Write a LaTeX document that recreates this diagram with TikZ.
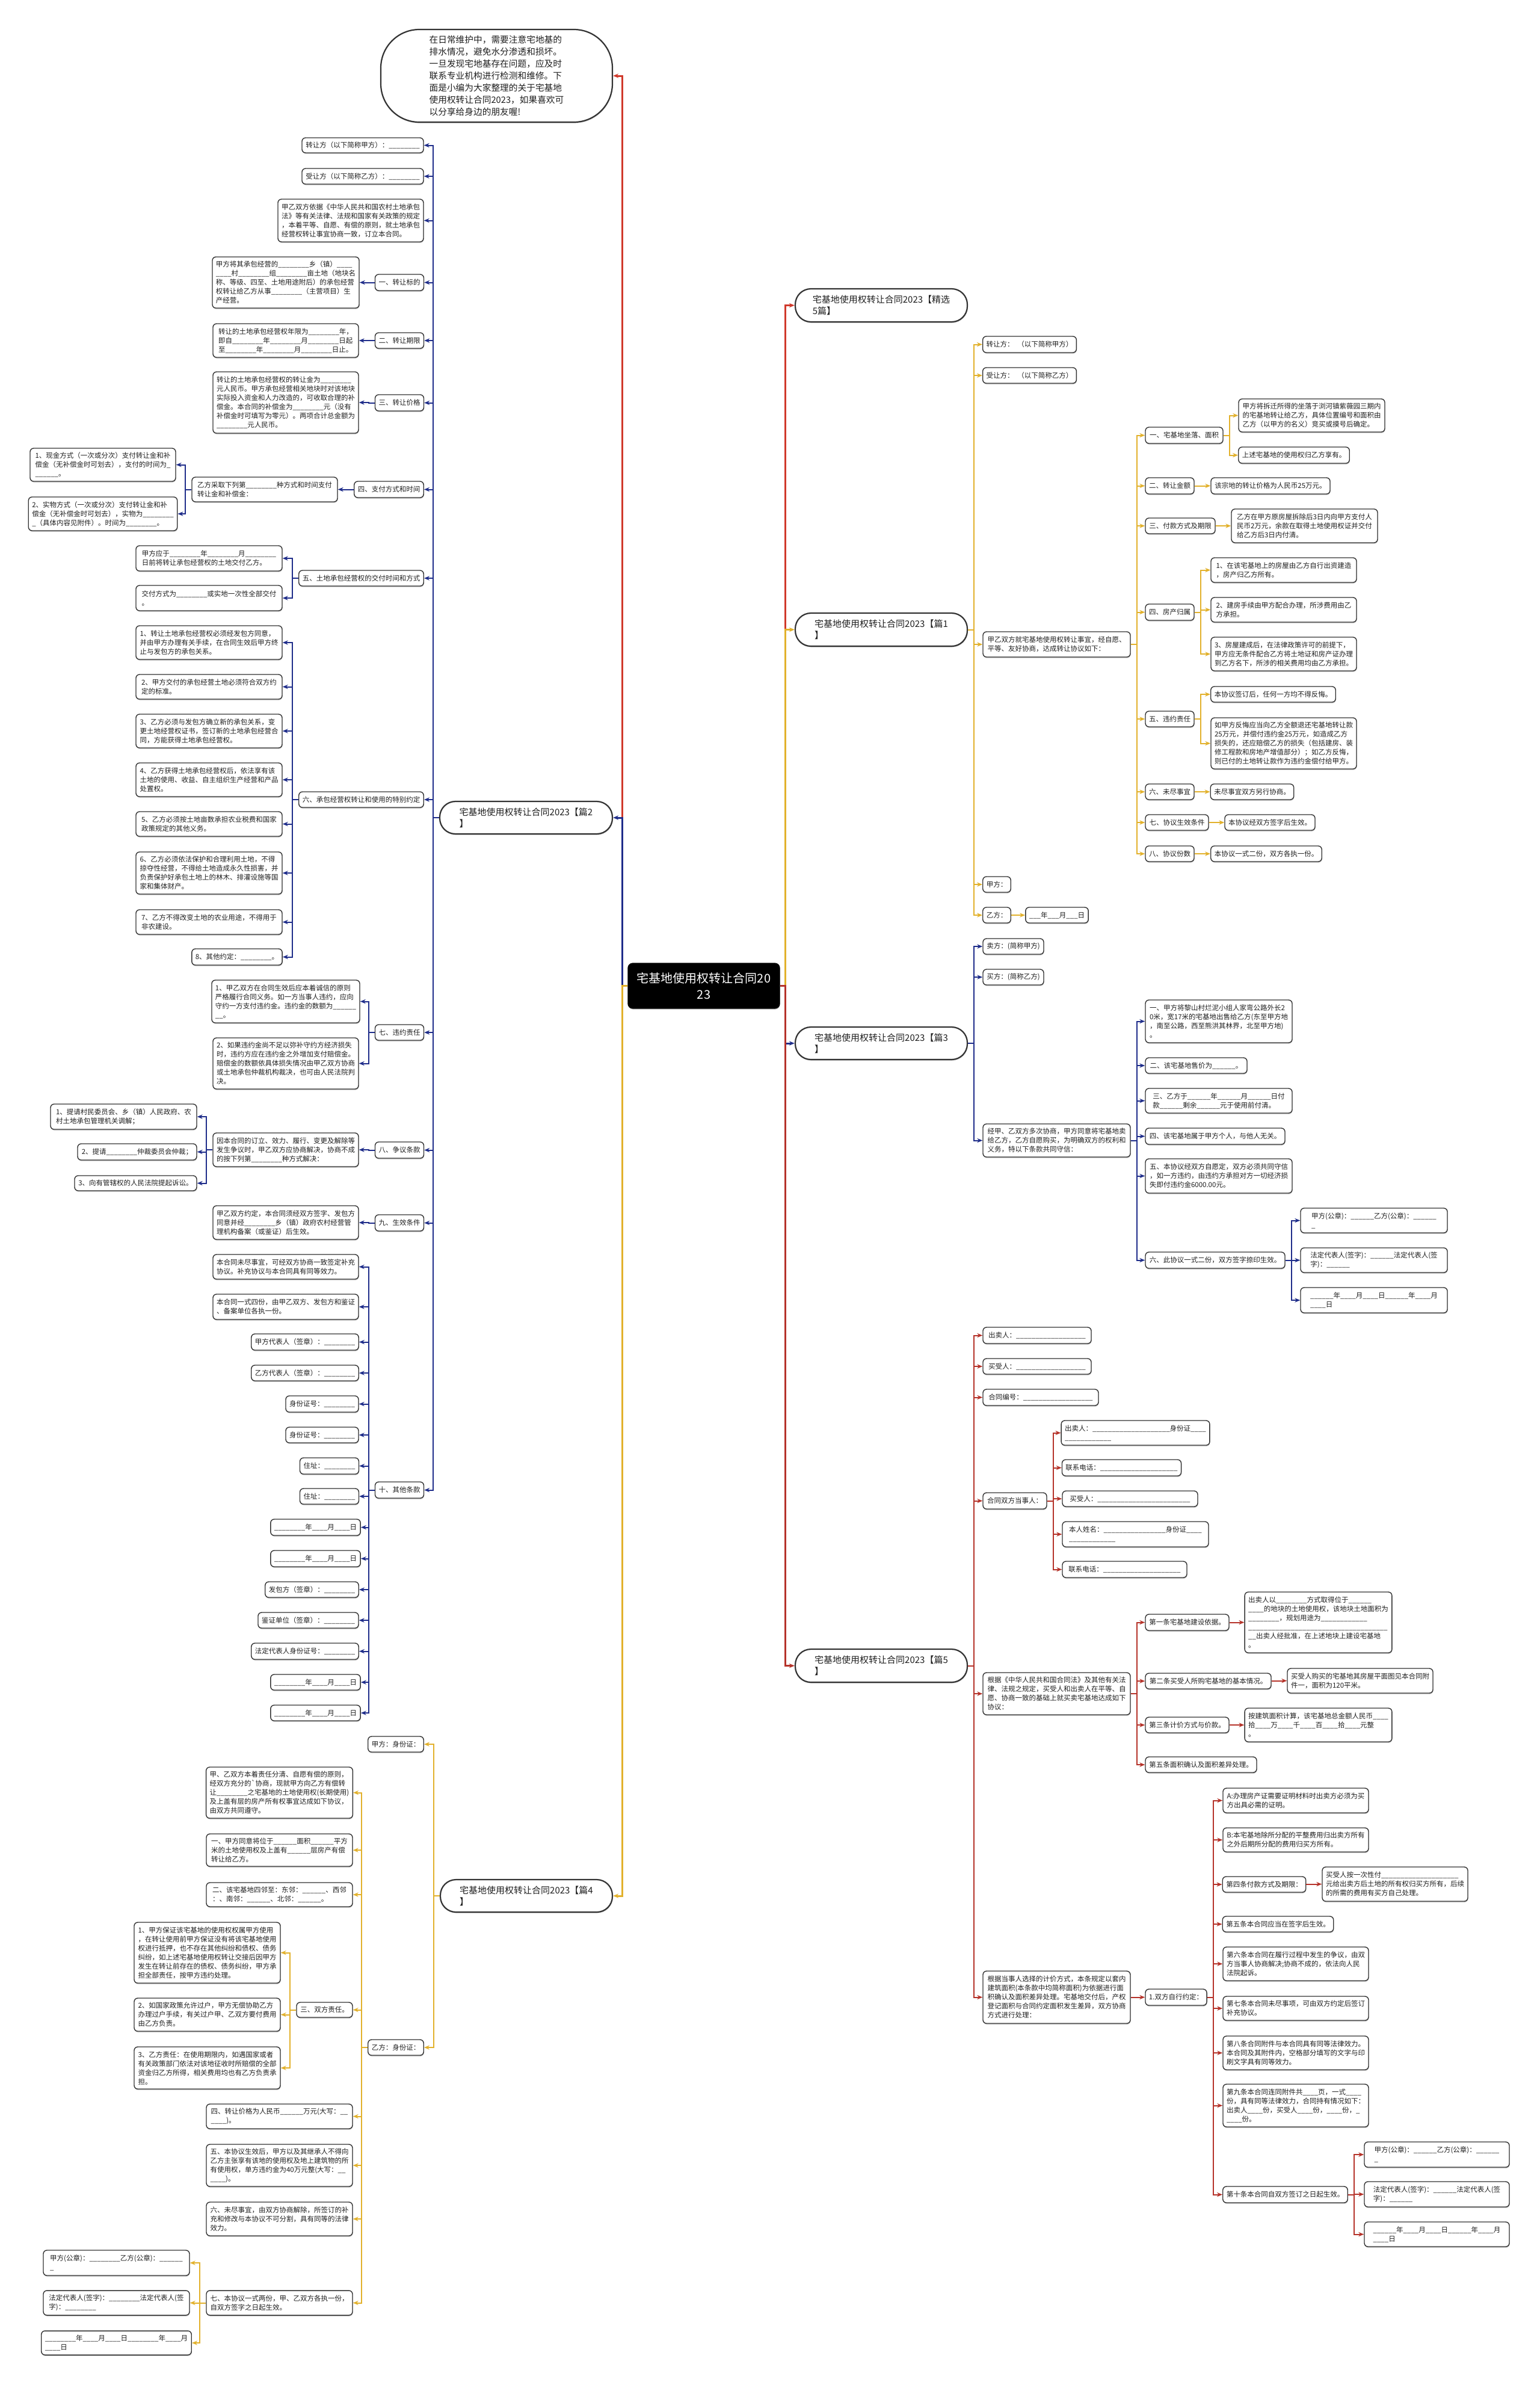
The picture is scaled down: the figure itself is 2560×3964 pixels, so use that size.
\documentclass[tikz,border=0pt]{standalone}
\usepackage{fontspec}
\setmainfont{Noto Sans CJK SC}
\usetikzlibrary{arrows.meta,shadows}
\definecolor{cblue}{HTML}{1F2D8A}
\definecolor{cgold}{HTML}{E2B12C}
\definecolor{cred}{HTML}{D0392B}
\definecolor{cdred}{HTML}{B5332A}
\colorlet{brc}{black}
\newcommand\blL{\_\_\_\_\_\_\_\_}
\newcommand\blM{\_\_\_\_\_\_}
\newcommand\blS{\_\_\_\_}
\newcommand\sfnt{\fontsize{5.75pt}{7.5pt}\selectfont}
\newcommand\lfnt{\fontsize{7.5pt}{9.5pt}\selectfont}
\newcommand\ifnt{\fontsize{7.35pt}{10pt}\selectfont}
\newcommand\rfnt{\fontsize{10pt}{13.5pt}\selectfont}
\newcommand\mybx[7][box]{%
 \pgfmathsetmacro\myx{(#3+#5)/2}\pgfmathsetmacro\myy{(#4+#6)/2}%
 \pgfmathsetmacro\myw{(#5-#3)*0.5}\pgfmathsetmacro\myh{(#6-#4)*0.5}%
 \node[#1,minimum width=\myw pt,minimum height=\myh pt] (#2) at (\myx,\myy) {#7};}
\newcommand\myER[2]{\foreach \cc in {#2}{\draw[conn] (#1.east) -- ++(10,0) |- (\cc.west);}}
\newcommand\myEL[2]{\foreach \cc in {#2}{\draw[conn] (#1.west) -- ++(-10,0) |- (\cc.east);}}
\begin{document}
\begin{tikzpicture}[x=0.5pt,y=-0.5pt,
 box/.style={draw=black!80,line width=0.7pt,rounded corners=3pt,fill=white,inner xsep=3pt,inner ysep=0pt,align=left,font=\sfnt,text=black!88,drop shadow={shadow xshift=0.3pt,shadow yshift=-0.9pt,fill=black!40}},
 lvl/.style={box,line width=1.1pt,rounded corners=13pt,font=\lfnt},
 intro/.style={box,line width=1.1pt,rounded corners=32pt,font=\ifnt},
 rootbox/.style={box,draw=black,fill=black,text=white,font=\rfnt,align=center,rounded corners=4pt},
 conn/.style={draw=brc,line width=1pt,-{Stealth[length=4.5pt,width=3.6pt]}}]
\fill[white] (0,0) rectangle (2560,3964);
\useasboundingbox (0,0) rectangle (2560,3964);

% root and level 1
\mybx[rootbox]{root}{1044}{1601}{1296}{1676}{宅基地使用权转让合同20\\23}
\mybx[intro]{nI}{633}{49}{1018}{203}{在日常维护中，需要注意宅地基的\\排水情况，避免水分渗透和损坏。\\一旦发现宅地基存在问题，应及时\\联系专业机构进行检测和维修。下\\面是小编为大家整理的关于宅基地\\使用权转让合同2023，如果喜欢可\\以分享给身边的朋友喔!}
\mybx[lvl]{n2}{731}{1332}{1018}{1386}{宅基地使用权转让合同2023【篇2\\】}
\mybx[lvl]{n4}{732}{3124}{1018}{3178}{宅基地使用权转让合同2023【篇4\\】}
\mybx[lvl]{n0}{1322}{480}{1608}{535}{宅基地使用权转让合同2023【精选\\5篇】}
\mybx[lvl]{n1}{1322}{1019}{1608}{1074}{宅基地使用权转让合同2023【篇1\\】}
\mybx[lvl]{n3}{1322}{1707}{1608}{1761}{宅基地使用权转让合同2023【篇3\\】}
\mybx[lvl]{n5}{1322}{2741}{1608}{2796}{宅基地使用权转让合同2023【篇5\\】}

% ---------- 篇2 ----------
\mybx{n2a}{502}{229}{704}{254}{转让方（以下简称甲方）：\blL}
\mybx{n2b}{502}{280}{704}{306}{受让方（以下简称乙方）：\blL}
\mybx{n2c}{462}{331}{704}{402}{甲乙双方依据《中华人民共和国农村土地承包\\法》等有关法律、法规和国家有关政策的规定\\，本着平等、自愿、有偿的原则，就土地承包\\经营权转让事宜协商一致，订立本合同。}
\mybx{n2d}{624}{456}{704}{483}{一、转让标的}
\mybx{n2d1}{354}{427}{596}{512}{甲方将其承包经营的\blL 乡（镇）\blS\\\blS 村\blL 组\blL 亩土地（地块名\\称、等级、四至、土地用途附后）的承包经营\\权转让给乙方从事\blL （主营项目）生\\产经营。}
\mybx{n2e}{624}{553}{704}{579}{二、转让期限}
\mybx{n2e1}{354}{538}{596}{594}{转让的土地承包经营权年限为\blL 年，\\即自\blL 年\blL 月\blL 日起\\至\blL 年\blL 月\blL 日止。}
\mybx{n2f}{624}{656}{704}{683}{三、转让价格}
\mybx{n2f1}{354}{618}{596}{720}{转让的土地承包经营权的转让金为\blL\\元人民币。甲方承包经营相关地块时对该地块\\实际投入资金和人力改造的，可收取合理的补\\偿金。本合同的补偿金为\blL 元（没有\\补偿金时可填写为零元）。两项合计总金额为\\\blL 元人民币。}
\mybx{n2g}{589}{800}{704}{827}{四、支付方式和时间}
\mybx{n2g1}{319}{793}{561}{834}{乙方采取下列第\blL 种方式和时间支付\\转让金和补偿金：}
\mybx{n2g1a}{50}{745}{292}{800}{1、现金方式（一次或分次）支付转让金和补\\偿金（无补偿金时可划去），支付的时间为\_\\\blM 。}
\mybx{n2g1b}{50}{826}{292}{882}{2、实物方式（一次或分次）支付转让金和补\\偿金（无补偿金时可划去），实物为\blL\\\_（具体内容见附件）。时间为\blL 。}
\mybx{n2h}{497}{948}{704}{974}{五、土地承包经营权的交付时间和方式}
\mybx{n2h1}{226}{907}{469}{949}{甲方应于\blL 年\blL 月\blL\\日前将转让承包经营权的土地交付乙方。}
\mybx{n2h2}{226}{973}{469}{1015}{交付方式为\blL 或实地一次性全部交付\\。}
\mybx{n2i}{497}{1316}{704}{1342}{六、承包经营权转让和使用的特别约定}
\mybx{n2i1}{226}{1040}{469}{1096}{1、转让土地承包经营权必须经发包方同意，\\并由甲方办理有关手续，在合同生效后甲方终\\止与发包方的承包关系。}
\mybx{n2i2}{226}{1121}{469}{1162}{2、甲方交付的承包经营土地必须符合双方约\\定的标准。}
\mybx{n2i3}{226}{1187}{469}{1243}{3、乙方必须与发包方确立新的承包关系，变\\更土地经营权证书，签订新的土地承包经营合\\同，方能获得土地承包经营权。}
\mybx{n2i4}{226}{1268}{469}{1324}{4、乙方获得土地承包经营权后，依法享有该\\土地的使用、收益、自主组织生产经营和产品\\处置权。}
\mybx{n2i5}{226}{1349}{469}{1390}{5、乙方必须按土地亩数承担农业税费和国家\\政策规定的其他义务。}
\mybx{n2i6}{226}{1416}{469}{1486}{6、乙方必须依法保护和合理利用土地，不得\\掠夺性经营，不得给土地造成永久性损害，并\\负责保护好承包土地上的林木、排灌设施等国\\家和集体财产。}
\mybx{n2i7}{226}{1512}{469}{1553}{7、乙方不得改变土地的农业用途，不得用于\\非农建设。}
\mybx{n2i8}{319}{1577}{469}{1604}{8、其他约定：\blL 。}
\mybx{n2j}{624}{1703}{704}{1729}{七、违约责任}
\mybx{n2j1}{354}{1629}{596}{1700}{1、甲乙双方在合同生效后应本着诚信的原则\\严格履行合同义务。如一方当事人违约，应向\\守约一方支付违约金。违约金的数额为\blM\\\_\_。}
\mybx{n2j2}{354}{1725}{596}{1810}{2、如果违约金尚不足以弥补守约方经济损失\\时，违约方应在违约金之外增加支付赔偿金。\\赔偿金的数额依具体损失情况由甲乙双方协商\\或土地承包仲裁机构裁决，也可由人民法院判\\决。}
\mybx{n2k}{624}{1898}{704}{1925}{八、争议条款}
\mybx{n2k1}{354}{1883}{596}{1939}{因本合同的订立、效力、履行、变更及解除等\\发生争议时，甲乙双方应协商解决，协商不成\\的按下列第\blL 种方式解决：}
\mybx{n2k1a}{84}{1835}{327}{1877}{1、提请村民委员会、乡（镇）人民政府、农\\村土地承包管理机关调解；}
\mybx{n2k1b}{129}{1901}{327}{1928}{2、提请\blL 仲裁委员会仲裁；}
\mybx{n2k1c}{124}{1954}{327}{1979}{3、向有管辖权的人民法院提起诉讼。}
\mybx{n2l}{624}{2019}{704}{2046}{九、生效条件}
\mybx{n2l1}{354}{2004}{596}{2060}{甲乙双方约定，本合同须经双方签字、发包方\\同意并经\blL 乡（镇）政府农村经营管\\理机构备案（或鉴证）后生效。}
\mybx{n2m}{624}{2463}{704}{2490}{十、其他条款}
\mybx{m1}{354}{2085}{596}{2126}{本合同未尽事宜，可经双方协商一致签定补充\\协议。补充协议与本合同具有同等效力。}
\mybx{m2}{354}{2151}{596}{2193}{本合同一式四份，由甲乙双方、发包方和鉴证\\、备案单位各执一份。}
\mybx{m3}{418}{2217}{596}{2244}{甲方代表人（签章）：\blL}
\mybx{m4}{418}{2269}{596}{2295}{乙方代表人（签章）：\blL}
\mybx{m5}{475}{2320}{596}{2347}{身份证号：\blL}
\mybx{m6}{475}{2372}{596}{2398}{身份证号：\blL}
\mybx{m7}{499}{2423}{596}{2450}{住址：\blL}
\mybx{m8}{499}{2474}{596}{2500}{住址：\blL}
\mybx{m9}{453}{2525}{596}{2552}{\blL 年\blS 月\blS 日}
\mybx{m10}{453}{2577}{596}{2604}{\blL 年\blS 月\blS 日}
\mybx{m11}{441}{2629}{596}{2655}{发包方（签章）：\blL}
\mybx{m12}{429}{2680}{596}{2706}{鉴证单位（签章）：\blL}
\mybx{m13}{418}{2731}{596}{2758}{法定代表人身份证号：\blL}
\mybx{m14}{453}{2783}{596}{2809}{\blL 年\blS 月\blS 日}
\mybx{m15}{453}{2834}{596}{2860}{\blL 年\blS 月\blS 日}

% ---------- 篇4 ----------
\mybx{n4a}{612}{2886}{704}{2912}{甲方：身份证：}
\mybx{n4b}{612}{3390}{704}{3416}{乙方：身份证：}
\mybx{b1}{343}{2937}{586}{3022}{甲、乙双方本着责任分清、自愿有偿的原则，\\经双方充分的\textasciigrave 协商，现就甲方向乙方有偿转\\让\blL 之宅基地的土地使用权(长期使用)\\及上盖有层的房产所有权事宜达成如下协议，\\由双方共同遵守。}
\mybx{b2}{343}{3048}{586}{3102}{一、甲方同意将位于\blM 面积\blM 平方\\米的土地使用权及上盖有\blM 层房产有偿\\转让给乙方。}
\mybx{b3}{343}{3129}{586}{3169}{二、该宅基地四邻至：东邻：\blM 、西邻\\：、南邻：\blM 、北邻：\blM 。}
\mybx{b4}{493}{3328}{586}{3353}{三、双方责任。}
\mybx{b4a}{223}{3195}{466}{3296}{1、甲方保证该宅基地的使用权权属甲方使用\\，在转让使用前甲方保证没有将该宅基地使用\\权进行抵押，也不存在其他纠纷和债权、债务\\纠纷，如上述宅基地使用权转让交接后因甲方\\发生在转让前存在的债权、债务纠纷，甲方承\\担全部责任，按甲方违约处理。}
\mybx{b4b}{223}{3321}{466}{3376}{2、如国家政策允许过户，甲方无偿协助乙方\\办理过户手续，有关过户甲、乙双方要付费用\\由乙方负责。}
\mybx{b4c}{223}{3402}{466}{3472}{3、乙方责任：在使用期限内，如遇国家或者\\有关政策部门依法对该地征收时所赔偿的全部\\资金归乙方所得，相关费用均也有乙方负责承\\担。}
\mybx{b5}{343}{3497}{586}{3538}{四、转让价格为人民币\blM 万元(大写：\_\_\\\blS )。}
\mybx{b6}{343}{3564}{586}{3634}{五、本协议生效后，甲方以及其继承人不得向\\乙方主张享有该地的使用权及地上建筑物的所\\有使用权，单方违约金为40万元整(大写：\_\_\\\blS )。}
\mybx{b7}{343}{3660}{586}{3716}{六、未尽事宜，由双方协商解除，所签订的补\\充和修改与本协议不可分割，具有同等的法律\\效力。}
\mybx{b8}{343}{3807}{586}{3848}{七、本协议一式两份，甲、乙双方各执一份，\\自双方签字之日起生效。}
\mybx{b8a}{72}{3740}{315}{3782}{甲方(公章)：\blL 乙方(公章)：\blM\\\_}
\mybx{b8b}{72}{3807}{315}{3848}{法定代表人(签字)：\blL 法定代表人(签\\字)：\blL}
\mybx{b8c}{72}{3874}{315}{3914}{\blL 年\blS 月\blS 日\blL 年\blS 月\\\blS 日}

% ---------- 篇1 ----------
\mybx{n1a}{1634}{559}{1789}{586}{转让方：\enspace（以下简称甲方）}
\mybx{n1b}{1634}{611}{1789}{637}{受让方：\enspace（以下简称乙方）}
\mybx{n1c}{1634}{1050}{1879}{1092}{甲乙双方就宅基地使用权转让事宜，经自愿、\\平等、友好协商，达成转让协议如下：}
\mybx{c1}{1904}{710}{2033}{737}{一、宅基地坐落、面积}
\mybx{c1a}{2059}{663}{2302}{718}{甲方将拆迁所得的坐落于浏河镇紫薇园三期内\\的宅基地转让给乙方，具体位置编号和面积由\\乙方（以甲方的名义）竞买或摸号后确定。}
\mybx{c1b}{2059}{743}{2243}{770}{上述宅基地的使用权归乙方享有。}
\mybx{c2}{1904}{794}{1985}{821}{二、转让金额}
\mybx{c2a}{2013}{794}{2211}{821}{该宗地的转让价格为人民币25万元。}
\mybx{c3}{1904}{861}{2020}{887}{三、付款方式及期限}
\mybx{c3a}{2047}{846}{2290}{902}{乙方在甲方原房屋拆除后3日内向甲方支付人\\民币2万元，余款在取得土地使用权证并交付\\给乙方后3日内付清。}
\mybx{c4}{1904}{1004}{1985}{1031}{四、房产归属}
\mybx{c4a}{2013}{927}{2255}{968}{1、在该宅基地上的房屋由乙方自行出资建造\\，房产归乙方所有。}
\mybx{c4b}{2013}{993}{2255}{1034}{2、建房手续由甲方配合办理，所涉费用由乙\\方承担。}
\mybx{c4c}{2013}{1059}{2255}{1115}{3、房屋建成后，在法律政策许可的前提下，\\甲方应无条件配合乙方将土地证和房产证办理\\到乙方名下，所涉的相关费用均由乙方承担。}
\mybx{c5}{1904}{1182}{1985}{1208}{五、违约责任}
\mybx{c5a}{2013}{1141}{2220}{1167}{本协议签订后，任何一方均不得反悔。}
\mybx{c5b}{2013}{1193}{2255}{1278}{如甲方反悔应当向乙方全额退还宅基地转让款\\25万元，并偿付违约金25万元，如造成乙方\\损失的，还应赔偿乙方的损失（包括建房、装\\修工程款和房地产增值部分）；如乙方反悔，\\则已付的土地转让款作为违约金偿付给甲方。}
\mybx{c6}{1904}{1303}{1985}{1329}{六、未尽事宜}
\mybx{c6a}{2013}{1303}{2150}{1329}{未尽事宜双方另行协商。}
\mybx{c7}{1904}{1354}{2009}{1380}{七、协议生效条件}
\mybx{c7a}{2036}{1354}{2186}{1380}{本协议经双方签字后生效。}
\mybx{c8}{1904}{1406}{1985}{1432}{八、协议份数}
\mybx{c8a}{2013}{1406}{2197}{1432}{本协议一式二份，双方各执一份。}
\mybx{n1d}{1634}{1457}{1680}{1483}{甲方：}
\mybx{n1e}{1634}{1508}{1680}{1534}{乙方：}
\mybx{n1e1}{1708}{1508}{1806}{1534}{\_\_\_年\_\_\_月\_\_\_日}

% ---------- 篇3 ----------
\mybx{n3a}{1634}{1560}{1735}{1586}{卖方：(简称甲方)}
\mybx{n3b}{1634}{1611}{1735}{1637}{买方：(简称乙方)}
\mybx{n3c}{1634}{1868}{1879}{1923}{经甲、乙双方多次协商，甲方同意将宅基地卖\\给乙方，乙方自愿购买，为明确双方的权利和\\义务，特以下条款共同守信：}
\mybx{d1}{1904}{1662}{2148}{1733}{一、甲方将黎山村烂泥小组人家弯公路外长2\\0米，宽17米的宅基地出售给乙方(东至甲方地\\，南至公路，西至熊洪其林界，北至甲方地)\\。}
\mybx{d2}{1904}{1758}{2073}{1784}{二、该宅基地售价为\blM 。}
\mybx{d3}{1904}{1809}{2148}{1850}{三、乙方于\blM 年\blM 月\blM 日付\\款\blM 剩余\blM 元于使用前付清。}
\mybx{d4}{1904}{1875}{2136}{1902}{四、该宅基地属于甲方个人，与他人无关。}
\mybx{d5}{1904}{1926}{2148}{1983}{五、本协议经双方自愿定，双方必须共同守信\\，如一方违约，由违约方承担对方一切经济损\\失即付违约金6000.00元。}
\mybx{d6}{1904}{2081}{2136}{2108}{六、此协议一式二份，双方签字捺印生效。}
\mybx{d6a}{2162}{2008}{2406}{2049}{甲方(公章)：\blM 乙方(公章)：\blM\\\_}
\mybx{d6b}{2162}{2074}{2406}{2115}{法定代表人(签字)：\blM 法定代表人(签\\字)：\blM}
\mybx{d6c}{2162}{2140}{2406}{2182}{\blM 年\blS 月\blS 日\blM 年\blS 月\\\blS 日}

% ---------- 篇5 ----------
\mybx{e1}{1634}{2206}{1814}{2233}{出卖人：\blL\blL\_\_}
\mybx{e2}{1634}{2258}{1814}{2284}{买受人：\blL\blL\_\_}
\mybx{e3}{1634}{2309}{1826}{2336}{合同编号：\blL\blL\_\_}
\mybx{e4}{1634}{2481}{1740}{2508}{合同双方当事人：}
\mybx{e4a}{1766}{2361}{2009}{2402}{出卖人：\blL\blL\blS 身份证\blS\\\blL\blS}
\mybx{e4b}{1766}{2426}{1963}{2453}{联系电话：\blL\blL\blS}
\mybx{e4c}{1766}{2478}{1991}{2504}{买受人：\blL\blL\blL}
\mybx{e4d}{1766}{2529}{2009}{2571}{本人姓名：\blL\blL 身份证\blS\\\blL\blS}
\mybx{e4e}{1766}{2595}{1973}{2622}{联系电话：\blL\blL\blS}
\mybx{e5}{1634}{2780}{1879}{2850}{根据《中华人民共和国合同法》及其他有关法\\律、法规之规定，买受人和出卖人在平等、自\\愿、协商一致的基础上就买卖宅基地达成如下\\协议：}
\mybx{f1}{1904}{2683}{2043}{2710}{第一条宅基地建设依据。}
\mybx{f1a}{2070}{2646}{2313}{2747}{出卖人以\blL 方式取得位于\blM\\\blS 的地块的土地使用权，该地块土地面积为\\\blL ，规划用途为\blL\blS\\\blL\blL\blL\blL\blS\\\_\_出卖人经批准，在上述地块上建设宅基地\\。}
\mybx{f2}{1904}{2781}{2113}{2807}{第二条买受人所购宅基地的基本情况。}
\mybx{f2a}{2140}{2773}{2382}{2814}{买受人购买的宅基地其房屋平面图见本合同附\\件一，面积为120平米。}
\mybx{f3}{1904}{2854}{2043}{2880}{第三条计价方式与价款。}
\mybx{f3a}{2070}{2839}{2313}{2895}{按建筑面积计算，该宅基地总金额人民币\blS\\拾\blS 万\blS 千\blS 百\blS 拾\blS 元整\\。}
\mybx{f4}{1904}{2920}{2089}{2946}{第五条面积确认及面积差异处理。}
\mybx{e6}{1634}{3276}{1879}{3363}{根据当事人选择的计价方式，本条规定以套内\\建筑面积(本条款中均简称面积)为依据进行面\\积确认及面积差异处理。宅基地交付后，产权\\登记面积与合同约定面积发生差异，双方协商\\方式进行处理：}
\mybx{g}{1904}{3306}{2006}{3333}{1.双方自行约定：}
\mybx{g1}{2033}{2972}{2275}{3013}{A:办理房产证需要证明材料时出卖方必须为买\\方出具必需的证明。}
\mybx{g2}{2033}{3038}{2275}{3078}{B:本宅基地除所分配的平整费用归出卖方所有\\之外后期所分配的费用归买方所有。}
\mybx{g3}{2033}{3119}{2170}{3145}{第四条付款方式及期限：}
\mybx{g3a}{2198}{3103}{2440}{3160}{买受人按一次性付\blL\blL\blS\\元给出卖方后土地的所有权归买方所有，后续\\的所需的费用有买方自己处理。}
\mybx{g4}{2033}{3185}{2216}{3211}{第五条本合同应当在签字后生效。}
\mybx{g5}{2033}{3236}{2275}{3292}{第六条本合同在履行过程中发生的争议，由双\\方当事人协商解决;协商不成的，依法向人民\\法院起诉。}
\mybx{g6}{2033}{3318}{2275}{3358}{第七条本合同未尽事项，可由双方约定后签订\\补充协议。}
\mybx{g7}{2033}{3384}{2275}{3440}{第八条合同附件与本合同具有同等法律效力。\\本合同及其附件内，空格部分填写的文字与印\\刷文字具有同等效力。}
\mybx{g8}{2033}{3464}{2275}{3535}{第九条本合同连同附件共\blS 页，一式\blS\\份，具有同等法律效力，合同持有情况如下：\\出卖人\blS 份，买受人\blS 份，\blS 份，\_\\\blS 份。}
\mybx{g9}{2033}{3634}{2240}{3661}{第十条本合同自双方签订之日起生效。}
\mybx{g9a}{2268}{3560}{2509}{3602}{甲方(公章)：\blM 乙方(公章)：\blM\\\_}
\mybx{g9b}{2268}{3626}{2509}{3668}{法定代表人(签字)：\blM 法定代表人(签\\字)：\blM}
\mybx{g9c}{2268}{3693}{2509}{3734}{\blM 年\blS 月\blS 日\blM 年\blS 月\\\blS 日}

% ---------- connectors ----------
\begin{scope}[conn/.append style={line width=1.5pt}]
\colorlet{brc}{cred}\draw[conn] (root.west) -- ++(-9,0) |- (nI.east);
\colorlet{brc}{cblue}\draw[conn] (root.west) -- ++(-9,0) |- (n2.east);
\colorlet{brc}{cgold}\draw[conn] (root.west) -- ++(-9,0) |- (n4.east);
\colorlet{brc}{cred}\draw[conn] (root.east) -- ++(9,0) |- (n0.west);
\colorlet{brc}{cgold}\draw[conn] (root.east) -- ++(9,0) |- (n1.west);
\colorlet{brc}{cblue}\draw[conn] (root.east) -- ++(9,0) |- (n3.west);
\colorlet{brc}{cdred}\draw[conn] (root.east) -- ++(9,0) |- (n5.west);
\end{scope}

\colorlet{brc}{cblue}
\myEL{n2}{n2a,n2b,n2c,n2d,n2e,n2f,n2g,n2h,n2i,n2j,n2k,n2l,n2m}
\myEL{n2d}{n2d1}\myEL{n2e}{n2e1}\myEL{n2f}{n2f1}\myEL{n2g}{n2g1}
\myEL{n2g1}{n2g1a,n2g1b}\myEL{n2h}{n2h1,n2h2}
\myEL{n2i}{n2i1,n2i2,n2i3,n2i4,n2i5,n2i6,n2i7,n2i8}
\myEL{n2j}{n2j1,n2j2}\myEL{n2k}{n2k1}\myEL{n2k1}{n2k1a,n2k1b,n2k1c}
\myEL{n2l}{n2l1}
\myEL{n2m}{m1,m2,m3,m4,m5,m6,m7,m8,m9,m10,m11,m12,m13,m14,m15}

\colorlet{brc}{cgold}
\myEL{n4}{n4a,n4b}
\myEL{n4b}{b1,b2,b3,b4,b5,b6,b7,b8}
\myEL{b4}{b4a,b4b,b4c}\myEL{b8}{b8a,b8b,b8c}

\myER{n1}{n1a,n1b,n1c,n1d,n1e}
\myER{n1c}{c1,c2,c3,c4,c5,c6,c7,c8}
\myER{c1}{c1a,c1b}\myER{c2}{c2a}\myER{c3}{c3a}\myER{c4}{c4a,c4b,c4c}
\myER{c5}{c5a,c5b}\myER{c6}{c6a}\myER{c7}{c7a}\myER{c8}{c8a}\myER{n1e}{n1e1}

\colorlet{brc}{cblue}
\myER{n3}{n3a,n3b,n3c}
\myER{n3c}{d1,d2,d3,d4,d5,d6}
\myER{d6}{d6a,d6b,d6c}

\colorlet{brc}{cdred}
\myER{n5}{e1,e2,e3,e4,e5,e6}
\myER{e4}{e4a,e4b,e4c,e4d,e4e}
\myER{e5}{f1,f2,f3,f4}
\myER{f1}{f1a}\myER{f2}{f2a}\myER{f3}{f3a}
\myER{e6}{g}
\myER{g}{g1,g2,g3,g4,g5,g6,g7,g8,g9}
\myER{g3}{g3a}\myER{g9}{g9a,g9b,g9c}
\end{tikzpicture}
\end{document}
